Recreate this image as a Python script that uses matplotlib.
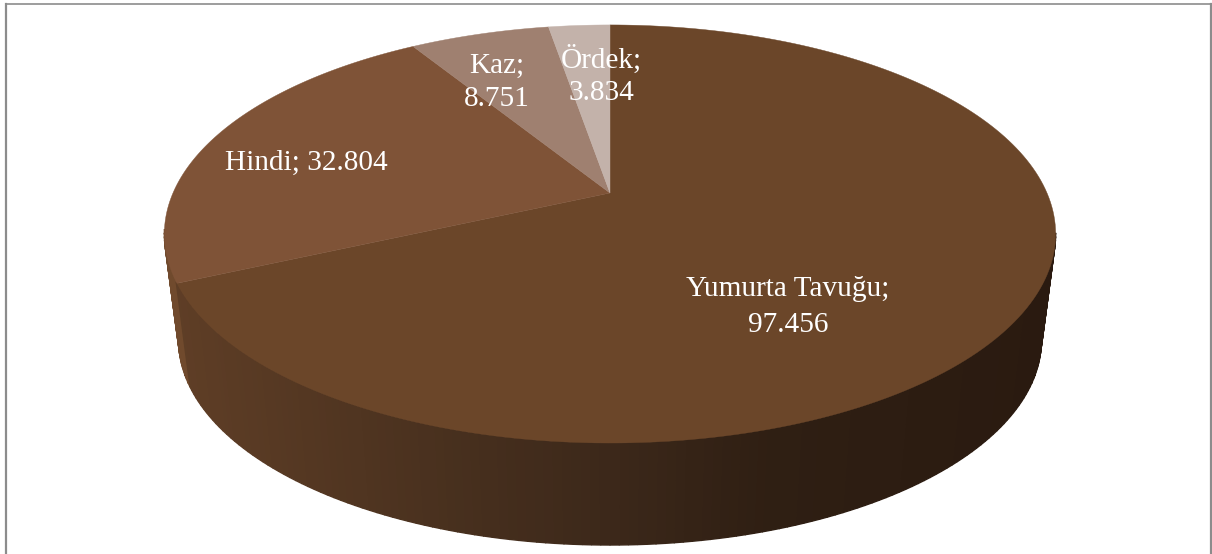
import numpy as np
from matplotlib import pyplot as plt
from matplotlib.colors import to_rgb

names = ['Yumurta Tavuğu', 'Hindi', 'Kaz', 'Ördek']
values = [97456, 32804, 8751, 3834]
top_colors = ['#6b4629', '#7f5337', '#9f8070', '#c3b2aa']
side_stops_x = [170, 450, 610, 770, 1050]
side_stops_c = ['#5f3e26', '#48301e', '#3c281a', '#2f1f13', '#2a1a10']
hindi_side = '#704a2d'

# placement of the labels, in pixels
label_pos = [(788, 307), (306, 163), (497, 82), (601, 75)]
label_spacing = [1.5, 1.2, 1.36, 1.3]

# perspective : the pie is a disc seen from above, apex is not at the ellipse center
cx = 610
k = 0.196

def project(theta, cy, a, b):
	u = np.sin(theta)
	v = np.cos(theta)
	return cx + a*u/(1 + k*v), cy - b*v/(1 + k*v)

def top(theta):
	return project(theta, 193, 437, 201)

def bottom(theta):
	return project(theta, 300, 423, 197)

fig = plt.figure(figsize=(12.12, 5.54), dpi=100)
ax = fig.add_axes([0, 0, 1, 1])
ax.set_xlim(0, 1212)
ax.set_ylim(554, 0)
ax.axis('off')

# cadre gris
frame_color = '#8c8c8c'
ax.plot([6, 6], [554, 3.5], color=frame_color, lw=1.6)
ax.plot([6, 1210.5], [3.5, 3.5], color=frame_color, lw=1.2)
ax.plot([1210.5, 1210.5], [3.5, 554], color=frame_color, lw=1.6)

fractions = np.array(values)/sum(values)
edges = np.concatenate(([0], np.cumsum(fractions)))*2*np.pi

# la paroi, back to front, only the part that can be seen
rgb = np.array([to_rgb(c) for c in side_stops_c])
t = np.linspace(0, 2*np.pi, 361)
order = np.argsort(-np.cos(t[:-1]))
for i in order:
	if np.cos(t[i]) > -0.19:
		continue
	x1, y1 = top(t[i])
	x2, y2 = top(t[i+1])
	x3, y3 = bottom(t[i+1])
	x4, y4 = bottom(t[i])
	mx = (x1 + x2)/2
	if t[i] >= edges[1]:
		col = hindi_side
	else:
		col = [np.interp(mx, side_stops_x, rgb[:, j]) for j in range(3)]
	ax.fill([x1, x2, x3, x4], [y1, y2, y3, y4], color=col, lw=1.0, zorder=2)

# le dessus
for i in range(len(values)):
	th = np.linspace(edges[i], edges[i+1], 200)
	x, y = top(th)
	ax.fill(np.r_[cx, x], np.r_[193, y], color=top_colors[i], lw=0.3, zorder=3)

for i in range(len(values)):
	val = f'{values[i]:,}'.replace(',', '.')
	sep = ' ' if names[i] == 'Hindi' else '\n'
	ax.text(label_pos[i][0], label_pos[i][1], f'{names[i]};{sep}{val}', color='white',
		family='Liberation Serif', fontsize=21.1, ha='center', va='center',
		linespacing=label_spacing[i], zorder=4)

fig.savefig('out.png', dpi=100)
